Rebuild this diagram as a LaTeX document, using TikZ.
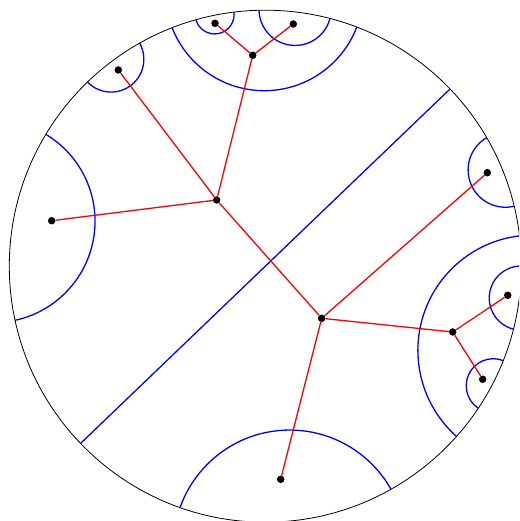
\documentclass[tikz,border=0pt]{standalone}
\usetikzlibrary{calc}
\newcommand\hgeo[2]{%
 \pgfmathsetmacro\gm{(#1+#2)/2}%
 \pgfmathsetmacro\ga{abs(#2-#1)/2}%
 \pgfmathsetmacro\gd{\R/cos(\ga)}%
 \pgfmathsetmacro\gr{\R*tan(\ga)}%
 \draw[geo] ($(C)+(\gm:\gd pt)$) circle (\gr pt);}
\begin{document}
\begin{tikzpicture}[x=1pt,y=1pt,
  geo/.style={blue, line width=1.3pt},
  edge/.style={red, line width=1.3pt},
  dot/.style={circle, fill=black, inner sep=0pt, minimum size=7.5pt}]
\useasboundingbox (0,0) rectangle (519,521);
\clip (0,0) rectangle (519,521);
\def\R{256}
\coordinate (C) at (265.3,254.8);
% geodesics
\begin{scope}
\clip (C) circle (\R pt);
\hgeo{149.0}{192.2}
\hgeo{119.4}{134.0}
\hgeo{69.07}{111.35}
\hgeo{97.03}{105.72}
\hgeo{75.37}{91.41}
\hgeo{13.55}{30.14}
\hgeo{-41.68}{6.8}
\hgeo{-14.24}{0.05}
\hgeo{-33.71}{-21.64}
\hgeo{250.55}{299.4}
\coordinate (d1) at ($(C)+(223.81:\R pt)$);
\coordinate (d2) at ($(C)+(43.81:\R pt)$);
\draw[geo] (d1) -- (d2);
\end{scope}
\draw[line width=0.8pt] (C) circle (\R pt);
% tree nodes
\node[dot] (n1) at (216.7,321) {};
\node[dot] (n2) at (321.7,202.7) {};
\node[dot] (n3) at (51.7,300.3) {};
\node[dot] (n4) at (118.3,451) {};
\node[dot] (n5) at (252.7,465.7) {};
\node[dot] (n6) at (215,497.7) {};
\node[dot] (n7) at (293.3,497) {};
\node[dot] (n8) at (487.3,348.3) {};
\node[dot] (n9) at (452.7,189) {};
\node[dot] (n10) at (507.7,225.7) {};
\node[dot] (n11) at (482.7,141.7) {};
\node[dot] (n12) at (280.7,41.7) {};
% tree edges
\draw[edge] (n1) -- (n3);
\draw[edge] (n1) -- (n4);
\draw[edge] (n1) -- (n5);
\draw[edge] (n5) -- (n6);
\draw[edge] (n5) -- (n7);
\draw[edge] (n1) -- (n2);
\draw[edge] (n2) -- (n8);
\draw[edge] (n2) -- (n9);
\draw[edge] (n9) -- (n10);
\draw[edge] (n9) -- (n11);
\draw[edge] (n2) -- (n12);
\end{tikzpicture}
\end{document}
